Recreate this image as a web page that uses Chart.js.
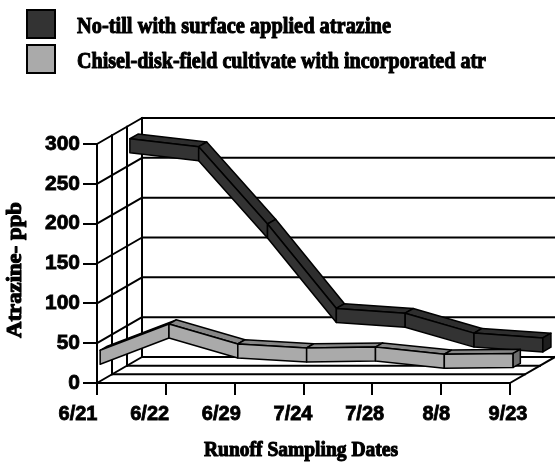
<!DOCTYPE html>
<html>
<head>
<meta charset="utf-8">
<script src="https://cdn.jsdelivr.net/npm/chart.js@4.4.0/dist/chart.umd.min.js"></script>
<style>
  html, body { margin: 0; padding: 0; background: #fff; }
  #wrap { width: 555px; height: 468px; }
</style>
</head>
<body>
<div id="wrap"><canvas id="chart1"></canvas></div>
<script>
// data
const dates = ['6/21', '6/22', '6/29', '7/24', '7/28', '8/8', '9/23'];
const noTill = [274, 264, 167, 61, 55, 30, 24];
const chisel = [30, 63, 38, 33, 34, 25, 26];
const seriesNames = ['No-till with surface applied atrazine', 'Chisel-disk-field cultivate with incorporated atr'];
const yMin = 0, yMax = 300, yStep = 50;

// 3d look
const DX = 45, DY = -26;
const depths = [[0.73, 0.91], [0.07, 0.23]];
const faces = [
  { front: '#333333', top: '#2e2e2e', end: '#1e1e1e' },
  { front: '#aaaaaa', top: '#868686', end: '#6e6e6e' }
];
const RIB = 14;

function poly(ctx, pts, fill) {
  ctx.beginPath();
  ctx.moveTo(pts[0].x, pts[0].y);
  for (let i = 1; i < pts.length; i++) ctx.lineTo(pts[i].x, pts[i].y);
  ctx.closePath();
  ctx.fillStyle = fill;
  ctx.fill();
  ctx.stroke();
}

function line(ctx, x1, y1, x2, y2) {
  ctx.beginPath();
  ctx.moveTo(x1, y1);
  ctx.lineTo(x2, y2);
  ctx.stroke();
}

// heavy squeezed text, like the old bitmap
function heavyText(ctx, text, x, y, width, font, rot) {
  ctx.save();
  ctx.font = font;
  ctx.fillStyle = '#000';
  ctx.strokeStyle = '#000';
  ctx.lineWidth = 1.1;
  ctx.lineJoin = 'round';
  ctx.textAlign = 'center';
  ctx.textBaseline = 'middle';
  const tw = ctx.measureText(text).width;
  ctx.translate(x, y);
  if (rot) ctx.rotate(rot);
  ctx.scale(width / tw, 1);
  ctx.fillText(text, 0, 0);
  ctx.strokeText(text, 0, 0);
  ctx.restore();
}

const walls = {
  id: 'walls',
  beforeDatasetsDraw(chart) {
    const { ctx, chartArea: a, scales: { y } } = chart;
    ctx.save();
    ctx.strokeStyle = '#000';
    ctx.lineWidth = 2;
    ctx.lineCap = 'square';
    y.ticks.forEach(t => {
      const py = y.getPixelForValue(t.value);
      line(ctx, a.left + DX, py + DY, a.right + DX, py + DY);
      line(ctx, a.left, py, a.left + DX, py + DY);
    });
    for (let k = 1; k <= 3; k++) {
      const ox = DX * k / 3, oy = DY * k / 3;
      line(ctx, a.left + ox, a.top + oy, a.left + ox, a.bottom + oy);
      if (k < 3) line(ctx, a.left + ox, a.bottom + oy, a.right + ox, a.bottom + oy);
    }
    line(ctx, a.right, a.bottom, a.right + DX, a.bottom + DY);
    ctx.restore();
  },
  afterDatasetsDraw(chart) {
    const { ctx } = chart;
    ctx.save();
    ctx.strokeStyle = '#000';
    ctx.lineWidth = 1.5;
    ctx.lineJoin = 'round';
    chart.data.datasets.forEach((ds, di) => {
      const pts = chart.getDatasetMeta(di).data;
      const [d0, d1] = depths[di];
      const c = faces[di];
      const P = (p, d, dy) => ({ x: p.x + DX * d, y: p.y + dy + DY * d });
      const h = RIB / 2;
      for (let i = 0; i < pts.length - 1; i++) {
        poly(ctx, [P(pts[i], d0, -h), P(pts[i + 1], d0, -h), P(pts[i + 1], d1, -h), P(pts[i], d1, -h)], c.top);
      }
      for (let i = 0; i < pts.length - 1; i++) {
        poly(ctx, [P(pts[i], d0, -h), P(pts[i + 1], d0, -h), P(pts[i + 1], d0, h), P(pts[i], d0, h)], c.front);
      }
      const last = pts[pts.length - 1];
      poly(ctx, [P(last, d0, -h), P(last, d1, -h), P(last, d1, h), P(last, d0, h)], c.end);
    });
    ctx.restore();
  },
  afterDraw(chart) {
    const { ctx, chartArea: a, scales: { x } } = chart;
    // legend
    const rows = [{ y: 10, w: 314 }, { y: 45, w: 409 }];
    chart.data.datasets.forEach((ds, i) => {
      const r = rows[i];
      ctx.save();
      ctx.fillStyle = faces[i].front;
      ctx.fillRect(27, r.y, 28, 28);
      ctx.strokeStyle = '#000';
      ctx.lineWidth = 2;
      ctx.strokeRect(27, r.y, 28, 28);
      ctx.restore();
      heavyText(ctx, ds.label, 77 + r.w / 2, r.y + 17, r.w, 'bold 24px "Liberation Serif"');
    });
    // category labels, spread a little wider than the front ticks
    ctx.save();
    ctx.font = 'bold 20px "Liberation Sans"';
    ctx.fillStyle = '#000';
    ctx.strokeStyle = '#000';
    ctx.lineWidth = 0.8;
    ctx.textAlign = 'center';
    ctx.textBaseline = 'middle';
    x.ticks.forEach((t, i) => {
      const px = a.left - 19 + (x.getPixelForValue(t.value) - a.left) * 430 / 413;
      const lbl = x.getLabelForValue(t.value);
      ctx.fillText(lbl, px, 414);
      ctx.strokeText(lbl, px, 414);
    });
    ctx.restore();
    // axis titles
    heavyText(ctx, 'Runoff Sampling Dates', 301, 450, 194, 'bold 22px "Liberation Serif"');
    heavyText(ctx, 'Atrazine- ppb', 15, 270, 136, 'bold 22px "Liberation Serif"', -Math.PI / 2);
  }
};

new Chart(document.getElementById('chart1'), {
  type: 'line',
  data: {
    labels: dates,
    datasets: [
      { label: seriesNames[0], data: noTill, showLine: false, pointRadius: 0, borderWidth: 0 },
      { label: seriesNames[1], data: chisel, showLine: false, pointRadius: 0, borderWidth: 0 }
    ]
  },
  options: {
    responsive: true,
    maintainAspectRatio: false,
    animation: false,
    layout: { padding: { left: 0, right: 45, top: 144, bottom: 0 } },
    plugins: {
      legend: { display: false },
      tooltip: { enabled: false }
    },
    scales: {
      x: {
        offset: false,
        afterFit: s => { s.height = 85; },
        grid: { drawOnChartArea: false, drawTicks: true, tickLength: 12, color: '#000', lineWidth: 2 },
        border: { display: true, color: '#000', width: 2 },
        ticks: { display: false }
      },
      y: {
        min: yMin,
        max: yMax,
        afterFit: s => { s.width = 97; },
        grid: { drawOnChartArea: false, drawTicks: true, tickLength: 14, color: '#000', lineWidth: 2 },
        border: { display: true, color: '#000', width: 2 },
        ticks: { stepSize: yStep, color: '#000', padding: 3, textStrokeColor: '#000', textStrokeWidth: 0.8,
          font: { family: '"Liberation Sans"', size: 21, weight: 'bold' } }
      }
    }
  },
  plugins: [walls]
});
</script>
</body>
</html>
